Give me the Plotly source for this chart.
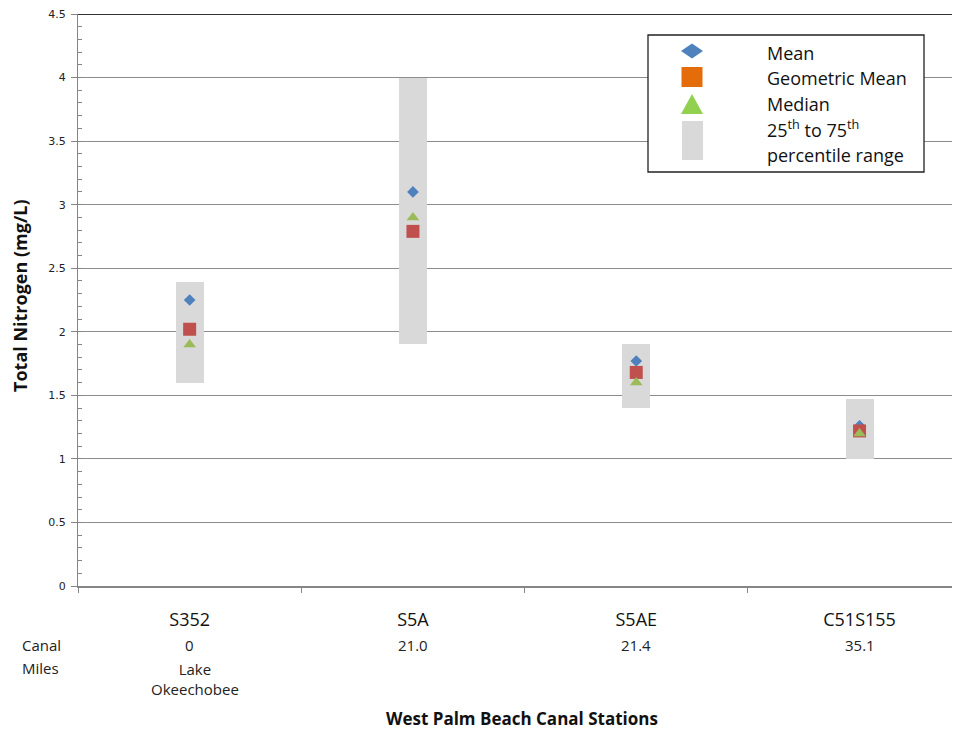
import plotly.graph_objects as go

stations = ["S352", "S5A", "S5AE", "C51S155"]
mean_tn = [2.25, 3.10, 1.77, 1.26]
geo_mean_tn = [2.02, 2.79, 1.68, 1.22]
median_tn = [1.90, 2.90, 1.60, 1.20]
p25_tn = [1.60, 1.90, 1.40, 1.00]
p75_tn = [2.39, 4.00, 1.90, 1.47]
canal_miles = ["0", "21.0", "21.4", "35.1"]
canal_notes = ["Lake<br>Okeechobee", "", "", ""]

# page body has an 8px default margin; work in screen pixels and offset
OFF = 8
SW, SH = 960, 731
W, H = SW - OFF, SH - OFF
PL, PT, PB = 78, 14, 586          # plot area in screen pixels
L, T = PL - OFF, PT - OFF
B = H - (PB - OFF)
R = 0
PW, PH = W - L - R, H - T - B

def px(x):  # screen pixel -> paper x
    return (x - PL) / PW

def py(y):  # screen pixel -> paper y
    return (PB - y) / PH

def path(points):
    return "M " + " L ".join(f"{px(a):.5f},{py(b):.5f}" for a, b in points) + " Z"

cat_w = 223.3
x_hi = -0.5 + PW / cat_w

fig = go.Figure()

fig.add_trace(go.Bar(
    x=stations, base=p25_tn, y=[h - l for h, l in zip(p75_tn, p25_tn)],
    width=0.125, marker=dict(color="#d9d9d9", line=dict(width=0)),
    showlegend=False, hoverinfo="skip"))

fig.add_trace(go.Scatter(x=stations, y=mean_tn, mode="markers", showlegend=False,
                         marker=dict(symbol="diamond", size=9, color="#4f81bd")))
fig.add_trace(go.Scatter(x=stations, y=geo_mean_tn, mode="markers", showlegend=False,
                         marker=dict(symbol="square", size=13, color="#c0504d")))
fig.add_trace(go.Scatter(x=stations, y=median_tn, mode="markers", showlegend=False,
                         marker=dict(symbol="triangle-up", size=11, color="#9bbb59")))

nl = dict(width=0)
shapes = [
    # legend box
    dict(type="rect", xref="paper", yref="paper", x0=px(648), x1=px(924), y0=py(172), y1=py(35),
         line=dict(color="#222222", width=1.3), fillcolor="white", layer="above"),
    # legend symbols
    dict(type="path", xref="paper", yref="paper", layer="above", line=nl, fillcolor="#4f81bd",
         path=path([(681, 51), (692, 43.5), (703, 51), (692, 58.5)])),
    dict(type="rect", xref="paper", yref="paper", layer="above", line=nl, fillcolor="#e46c0a",
         x0=px(681.5), x1=px(702.5), y0=py(87), y1=py(67)),
    dict(type="path", xref="paper", yref="paper", layer="above", line=nl, fillcolor="#92d050",
         path=path([(681, 114), (703, 114), (692, 94)])),
    dict(type="rect", xref="paper", yref="paper", layer="above", line=nl, fillcolor="#d9d9d9",
         x0=px(682), x1=px(703), y0=py(160), y1=py(121)),
    # dark top border
    dict(type="line", xref="paper", yref="y", x0=0, x1=1, y0=4.5, y1=4.5,
         line=dict(color="#333333", width=2)),
]

annotations = []
leg_font = dict(family="Open Sans", size=18, color="#111111")
for txt, yy in [("Mean", 53), ("Geometric Mean", 78), ("Median", 104),
                ("25<sup>th</sup> to 75<sup>th</sup>", 129), ("percentile range", 155)]:
    annotations.append(dict(text=txt, xref="paper", yref="paper", x=px(765), y=py(yy),
                            xanchor="left", yanchor="middle", showarrow=False, font=leg_font))

small = dict(family="Open Sans", size=15, color="#222222")
annotations.append(dict(text="Canal", xref="paper", yref="paper", x=px(41), y=py(645),
                        xanchor="center", yanchor="middle", showarrow=False, font=small))
annotations.append(dict(text="Miles", xref="paper", yref="paper", x=px(40), y=py(668),
                        xanchor="center", yanchor="middle", showarrow=False, font=small))
for s, m, n in zip(stations, canal_miles, canal_notes):
    annotations.append(dict(text=m, xref="x", yref="paper", x=s, y=py(645),
                            xanchor="center", yanchor="middle", showarrow=False, font=small))
    if n:
        annotations.append(dict(text=n, xref="x", yref="paper", x=s, y=py(657), xshift=5,
                                xanchor="center", yanchor="top", showarrow=False, font=small))
annotations.append(dict(text="<b>West Palm Beach Canal Stations</b>", xref="paper", yref="paper",
                        x=px(522), y=py(718), xanchor="center", yanchor="middle", showarrow=False,
                        font=dict(family="Open Sans", size=17, color="#111111")))
annotations.append(dict(text="<b>Total Nitrogen (mg/L)</b>", xref="paper", yref="paper",
                        x=px(20), y=py(296), xanchor="center", yanchor="middle", textangle=-90,
                        showarrow=False, font=dict(family="Open Sans", size=18, color="#111111")))

fig.update_layout(
    width=W, height=H,
    margin=dict(l=L, r=R, t=T, b=B, pad=0),
    paper_bgcolor="white", plot_bgcolor="white",
    showlegend=False,
    shapes=shapes, annotations=annotations,
    xaxis=dict(type="category", range=[-0.5, x_hi], showgrid=False,
               showline=True, linecolor="#868686", linewidth=2,
               ticks="outside", tickson="boundaries", ticklen=5, tickcolor="#868686",
               ticklabelstandoff=16,
               tickfont=dict(family="Open Sans", size=18, color="#111111"),
               zeroline=False),
    yaxis=dict(range=[0, 4.5], dtick=0.5, showgrid=True, gridcolor="#8c8c8c", gridwidth=1,
               showline=True, linecolor="#868686", linewidth=1,
               ticks="outside", ticklen=6, tickcolor="#868686", ticklabelstandoff=3,
               ticklabeloverflow="allow",
               minor=dict(dtick=0.1, ticks="inside", ticklen=4, tickcolor="#868686", showgrid=False),
               tickfont=dict(family="DejaVu Sans", size=11, color="#222222"),
               zeroline=False),
    bargap=0,
)

fig.write_html("out.html")
